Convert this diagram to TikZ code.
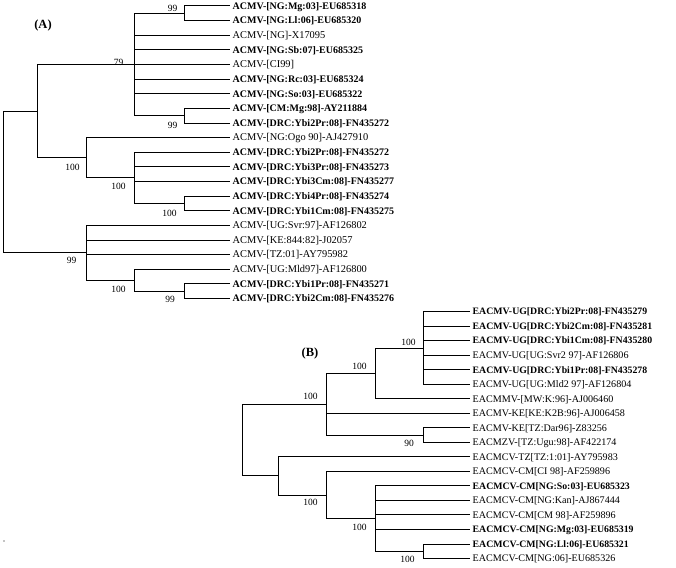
\documentclass[tikz,border=0pt]{standalone}
\usepackage{fontspec}
\setmainfont{Liberation Serif}
\begin{document}
\begin{tikzpicture}[x=1pt,y=-1pt,
  br/.style={line width=1pt},
  leaf/.style={anchor=west,inner xsep=2.5pt,inner ysep=0pt,text height=6.5pt,text depth=0pt,font=\fontsize{10.4}{10}\selectfont},
  bleaf/.style={leaf,font=\fontsize{10}{10}\selectfont\bfseries},
  bleafB/.style={leaf,font=\fontsize{9.8}{10}\selectfont\bfseries},
  leafB/.style={leaf,font=\fontsize{10.1}{10}\selectfont},
  boot/.style={inner sep=0pt,text height=6.5pt,text depth=0pt,font=\fontsize{9.5}{10}\selectfont},
  panel/.style={font=\fontsize{12.5}{13}\selectfont\bfseries,inner sep=0pt}]
\useasboundingbox (0,0) rectangle (676,567);

% ---------------- Tree A ----------------
\node[panel] (pA) at (43,25) {(A)};
\node[bleaf] (a1)  at (230,6.00)   {ACMV-[NG:Mg:03]-EU685318};
\node[bleaf] (a2)  at (230,20.63)  {ACMV-[NG:Ll:06]-EU685320};
\node[leaf]  (a3)  at (230,35.26)  {ACMV-[NG]-X17095};
\node[bleaf] (a4)  at (230,49.89)  {ACMV-[NG:Sb:07]-EU685325};
\node[leaf]  (a5)  at (230,64.52)  {ACMV-[CI99]};
\node[bleaf] (a6)  at (230,79.15)  {ACMV-[NG:Rc:03]-EU685324};
\node[bleaf] (a7)  at (230,93.78)  {ACMV-[NG:So:03]-EU685322};
\node[bleaf] (a8)  at (230,108.41) {ACMV-[CM:Mg:98]-AY211884};
\node[bleaf] (a9)  at (230,123.04) {ACMV-[DRC:Ybi2Pr:08]-FN435272};
\node[leaf]  (a10) at (230,137.67) {ACMV-[NG:Ogo 90]-AJ427910};
\node[bleaf] (a11) at (230,152.30) {ACMV-[DRC:Ybi2Pr:08]-FN435272};
\node[bleaf] (a12) at (230,166.93) {ACMV-[DRC:Ybi3Pr:08]-FN435273};
\node[bleaf] (a13) at (230,181.56) {ACMV-[DRC:Ybi3Cm:08]-FN435277};
\node[bleaf] (a14) at (230,196.19) {ACMV-[DRC:Ybi4Pr:08]-FN435274};
\node[bleaf] (a15) at (230,210.82) {ACMV-[DRC:Ybi1Cm:08]-FN435275};
\node[leaf]  (a16) at (230,225.45) {ACMV-[UG:Svr:97]-AF126802};
\node[leaf]  (a17) at (230,240.08) {ACMV-[KE:844:82]-J02057};
\node[leaf]  (a18) at (230,254.71) {ACMV-[TZ:01]-AY795982};
\node[leaf]  (a19) at (230,269.34) {ACMV-[UG:Mld97]-AF126800};
\node[bleaf] (a20) at (230,283.97) {ACMV-[DRC:Ybi1Pr:08]-FN435271};
\node[bleaf] (a21) at (230,298.60) {ACMV-[DRC:Ybi2Cm:08]-FN435276};

\coordinate (n99a)  at (184,13.3);
\coordinate (n99b)  at (184,115.7);
\coordinate (n79)   at (134,64.5);
\coordinate (n100c) at (184,203.5);
\coordinate (n100b) at (134,177.9);
\coordinate (nY)    at (86,157.8);
\coordinate (nX)    at (37,111.15);
\coordinate (n99c)  at (184,291.3);
\coordinate (n100d) at (134,280.3);
\coordinate (nZ)    at (86,252.9);
\coordinate (rA)    at (3,182);

\begin{scope}[br]
\draw (rA) |- (nX);  \draw (rA) |- (nZ);
\draw (nX) |- (n79); \draw (nX) |- (nY);
\draw (n79) |- (n99a); \draw (n79) |- (a3.west); \draw (n79) |- (a4.west);
\draw (n79) |- (a5.west); \draw (n79) |- (a6.west); \draw (n79) |- (a7.west);
\draw (n79) |- (n99b);
\draw (n99a) |- (a1.west); \draw (n99a) |- (a2.west);
\draw (n99b) |- (a8.west); \draw (n99b) |- (a9.west);
\draw (nY) |- (a10.west); \draw (nY) |- (n100b);
\draw (n100b) |- (a11.west); \draw (n100b) |- (a12.west); \draw (n100b) |- (a13.west);
\draw (n100b) |- (n100c);
\draw (n100c) |- (a14.west); \draw (n100c) |- (a15.west);
\draw (nZ) |- (a16.west); \draw (nZ) |- (a17.west); \draw (nZ) |- (a18.west);
\draw (nZ) |- (n100d);
\draw (n100d) |- (a19.west); \draw (n100d) |- (n99c);
\draw (n99c) |- (a20.west); \draw (n99c) |- (a21.west);
\end{scope}

\node[boot] (l99a)  at (172.5,8)   {99};
\node[boot] (l79)   at (118.5,62)  {79};
\node[boot] (l99b)  at (172.5,125) {99};
\node[boot] (lY)    at (72.5,167)  {100};
\node[boot] (l100b) at (118.5,186.7) {100};
\node[boot] (l100c) at (169.5,213) {100};
\node[boot] (lZ)    at (71.5,260)  {99};
\node[boot] (l100d) at (118.5,289) {100};
\node[boot] (l99c)  at (170,299)   {99};

% ---------------- Tree B ----------------
\node[panel] (pB) at (310,353) {(B)};
\node[bleafB] (b1)  at (470,311.70) {EACMV-UG[DRC:Ybi2Pr:08]-FN435279};
\node[bleafB] (b2)  at (470,326.22) {EACMV-UG[DRC:Ybi2Cm:08]-FN435281};
\node[bleafB] (b3)  at (470,340.74) {EACMV-UG[DRC:Ybi1Cm:08]-FN435280};
\node[leafB]  (b4)  at (470,355.26) {EACMV-UG[UG:Svr2 97]-AF126806};
\node[bleafB] (b5)  at (470,369.78) {EACMV-UG[DRC:Ybi1Pr:08]-FN435278};
\node[leafB]  (b6)  at (470,384.30) {EACMV-UG[UG:Mld2 97]-AF126804};
\node[leafB]  (b7)  at (470,398.82) {EACMMV-[MW:K:96]-AJ006460};
\node[leafB]  (b8)  at (470,413.34) {EACMV-KE[KE:K2B:96]-AJ006458};
\node[leafB]  (b9)  at (470,427.86) {EACMV-KE[TZ:Dar96]-Z83256};
\node[leafB]  (b10) at (470,442.38) {EACMZV-[TZ:Ugu:98]-AF422174};
\node[leafB]  (b11) at (470,456.90) {EACMCV-TZ[TZ:1:01]-AY795983};
\node[leafB]  (b12) at (470,471.42) {EACMCV-CM[CI 98]-AF259896};
\node[bleafB] (b13) at (470,485.94) {EACMCV-CM[NG:So:03]-EU685323};
\node[leafB]  (b14) at (470,500.46) {EACMCV-CM[NG:Kan]-AJ867444};
\node[leafB]  (b15) at (470,514.98) {EACMCV-CM[CM 98]-AF259896};
\node[bleafB] (b16) at (470,529.50) {EACMCV-CM[NG:Mg:03]-EU685319};
\node[bleafB] (b17) at (470,544.02) {EACMCV-CM[NG:Ll:06]-EU685321};
\node[leafB]  (b18) at (470,558.54) {EACMCV-CM[NG:06]-EU685326};

\coordinate (bTop) at (423.3,348);
\coordinate (bMid) at (375,373.4);
\coordinate (b90)  at (423.3,435.1);
\coordinate (bOut) at (326.7,404.25);
\coordinate (bBot) at (423.3,551.3);
\coordinate (bIn)  at (375,518.6);
\coordinate (bCM)  at (326.7,495);
\coordinate (bTwo) at (278.3,475.95);
\coordinate (rB)   at (242.7,440.1);

\begin{scope}[br]
\draw (rB) |- (bOut); \draw (rB) |- (bTwo);
\draw (bOut) |- (bMid); \draw (bOut) |- (b8.west); \draw (bOut) |- (b90);
\draw (bMid) |- (bTop); \draw (bMid) |- (b7.west);
\draw (bTop) |- (b1.west); \draw (bTop) |- (b2.west); \draw (bTop) |- (b3.west);
\draw (bTop) |- (b4.west); \draw (bTop) |- (b5.west); \draw (bTop) |- (b6.west);
\draw (b90) |- (b9.west); \draw (b90) |- (b10.west);
\draw (bTwo) |- (b11.west); \draw (bTwo) |- (bCM);
\draw (bCM) |- (b12.west); \draw (bCM) |- (bIn);
\draw (bIn) |- (b13.west); \draw (bIn) |- (b14.west); \draw (bIn) |- (b15.west);
\draw (bIn) |- (b16.west); \draw (bIn) |- (bBot);
\draw (bBot) |- (b17.west); \draw (bBot) |- (b18.west);
\end{scope}

\node[boot] (lbTop) at (408.5,342)   {100};
\node[boot] (lbMid) at (359.5,366.7) {100};
\node[boot] (lbOut) at (310.5,396.7) {100};
\node[boot] (lb90)  at (409,443.3)   {90};
\node[boot] (lbCM)  at (310.5,502.7) {100};
\node[boot] (lbIn)  at (359.5,527)   {100};
\node[boot] (lbBot) at (407.5,559)   {100};

\fill (4,541) circle (0.6);
\end{tikzpicture}
\end{document}
